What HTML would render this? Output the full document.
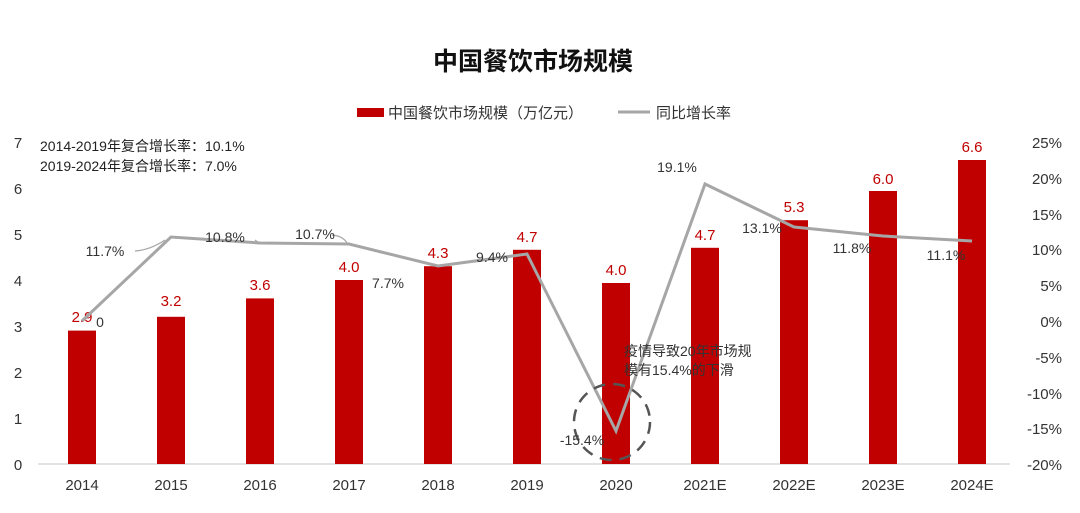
<!DOCTYPE html><html><head><meta charset="utf-8"><style>body{margin:0;background:#fff}</style></head><body>
<svg width="1080" height="508" xmlns="http://www.w3.org/2000/svg" font-family="Liberation Sans, Noto Sans CJK SC, sans-serif">
<rect width="1080" height="508" fill="#fff"/>
<text x="533" y="70" font-size="25" font-weight="bold" text-anchor="middle" fill="#111">中国餐饮市场规模</text>
<rect x="357" y="108" width="27" height="9" fill="#c00000"/>
<text x="388" y="118" font-size="15" fill="#333">中国餐饮市场规模（万亿元）</text>
<line x1="618" y1="112" x2="650" y2="112" stroke="#a6a6a6" stroke-width="3"/>
<text x="656" y="118" font-size="15" fill="#333">同比增长率</text>
<g font-size="15" fill="#333" text-anchor="middle">
<text x="18" y="148">7</text><text x="18" y="194">6</text><text x="18" y="240">5</text><text x="18" y="286">4</text><text x="18" y="332">3</text><text x="18" y="378">2</text><text x="18" y="424">1</text><text x="18" y="470">0</text>
</g>
<g font-size="15" fill="#333" text-anchor="end">
<text x="1062" y="148">25%</text><text x="1062" y="184">20%</text><text x="1062" y="220">15%</text><text x="1062" y="255">10%</text><text x="1062" y="291">5%</text><text x="1062" y="327">0%</text><text x="1062" y="363">-5%</text><text x="1062" y="399">-10%</text><text x="1062" y="434">-15%</text><text x="1062" y="470">-20%</text>
</g>
<text x="40" y="151" font-size="14" fill="#222">2014-2019年复合增长率：10.1%</text>
<text x="40" y="171" font-size="14" fill="#222">2019-2024年复合增长率：7.0%</text>
<line x1="38" y1="464" x2="1010" y2="464" stroke="#d9d9d9" stroke-width="1.5"/>
<g fill="#c00000">
<rect x="68" y="330.6" width="28" height="133.4"/>
<rect x="157" y="316.8" width="28" height="147.2"/>
<rect x="246" y="298.4" width="28" height="165.6"/>
<rect x="335" y="280" width="28" height="184"/>
<rect x="424" y="266.2" width="28" height="197.8"/>
<rect x="513" y="249.8" width="28" height="214.2"/>
<rect x="602" y="283" width="28" height="181"/>
<rect x="691" y="247.8" width="28" height="216.2"/>
<rect x="780" y="220.2" width="28" height="243.8"/>
<rect x="869" y="191" width="28" height="273"/>
<rect x="958" y="160" width="28" height="304"/>
</g>
<g font-size="15" fill="#c00000" text-anchor="middle">
<text x="82" y="322">2.9</text><text x="171" y="306">3.2</text><text x="260" y="290">3.6</text><text x="349" y="272">4.0</text><text x="438" y="258">4.3</text><text x="527" y="242">4.7</text><text x="616" y="275">4.0</text><text x="705" y="240">4.7</text><text x="794" y="212">5.3</text><text x="883" y="184">6.0</text><text x="972" y="152">6.6</text>
</g>
<g font-size="15" fill="#333" text-anchor="middle">
<text x="82" y="490">2014</text><text x="171" y="490">2015</text><text x="260" y="490">2016</text><text x="349" y="490">2017</text><text x="438" y="490">2018</text><text x="527" y="490">2019</text><text x="616" y="490">2020</text><text x="705" y="490">2021E</text><text x="794" y="490">2022E</text><text x="883" y="490">2023E</text><text x="972" y="490">2024E</text>
</g>
<polyline fill="none" stroke="#a6a6a6" stroke-width="3" points="82,321 171,237 260,243 349,244 438,266 527,254 616,431 705,184 794,227 883,236 972,241"/>
<g fill="none" stroke="#a6a6a6" stroke-width="1.2">
<path d="M135,251 Q150,250 165,240"/><path d="M255,240 L259,243"/><path d="M332,235 Q343,236 347,243"/>
</g>
<ellipse cx="612" cy="422" rx="38" ry="38" fill="none" stroke="#555" stroke-width="2.5" stroke-dasharray="12,8"/>
<g font-size="14" fill="#333" text-anchor="middle">
<text x="105" y="256">11.7%</text><text x="225" y="242">10.8%</text><text x="315" y="239">10.7%</text><text x="388" y="288">7.7%</text><text x="492" y="262">9.4%</text><text x="582" y="445">-15.4%</text><text x="677" y="172">19.1%</text><text x="762" y="233">13.1%</text><text x="852" y="253">11.8%</text><text x="946" y="260">11.1%</text><text x="100" y="327">0</text>
</g>
<text x="624" y="356" font-size="14" fill="#333">疫情导致20年市场规</text>
<text x="624" y="375" font-size="14" fill="#333">模有15.4%的下滑</text>
</svg>
</body></html>
